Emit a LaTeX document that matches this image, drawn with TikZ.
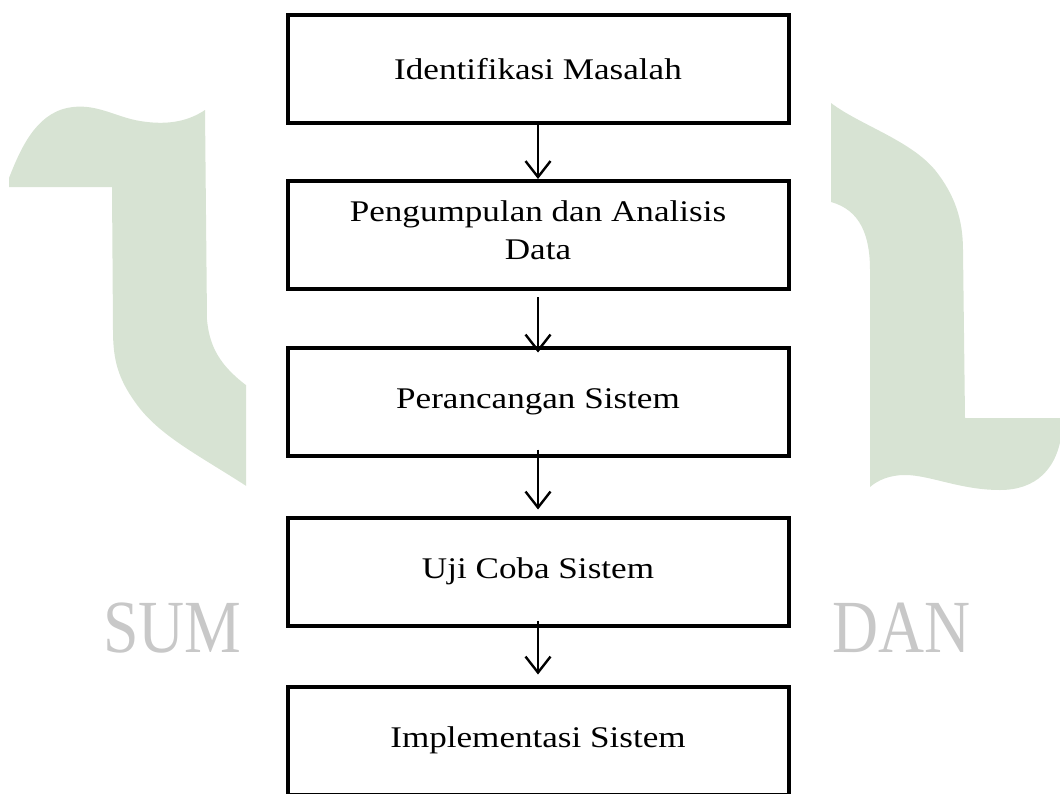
\documentclass[tikz,border=0pt]{standalone}
\usepackage{fontspec}
\setmainfont{Liberation Serif}
\newfontfamily\stagefont{Liberation Serif}[FakeStretch=1.17]
\newfontfamily\markfont{Liberation Serif}[FakeStretch=0.85]
\usetikzlibrary{arrows.meta}
\definecolor{markgreen}{RGB}{215,227,211}
\definecolor{markgray}{RGB}{200,200,200}
\tikzset{
  stage/.style={draw=black, line width=2pt, minimum width=250.5pt, minimum height=54pt,
    align=center, font=\stagefont\fontsize{15}{19}\selectfont},
  flow/.style={line width=1.2pt, -{Straight Barb[length=8pt,width=12.5pt,line width=1.2pt]}},
  markword/.style={markgray, anchor=base west, inner sep=0pt, font=\markfont\fontsize{37.5}{40}\selectfont}
}
\begin{document}
\begin{tikzpicture}[x=0.5pt,y=-0.5pt]
  \useasboundingbox (0,0) rectangle (1060,793);
  % watermark
  \begin{scope}
    \clip (0,0) rectangle (246,793);
    \fill[markgreen] (9,187) -- (9,178) .. controls (20,150) and (35,115) .. (67,108)
      .. controls (95,102) and (115,117) .. (140,121) .. controls (170,126) and (190,120) .. (205,110)
      -- (207,320) .. controls (210,350) and (222,370) .. (260,395) -- (260,495)
      .. controls (205,458) and (160,438) .. (135,402) .. controls (118,378) and (113,360) .. (113,330)
      -- (112,187) -- cycle;
    \node[markword] (sum) at (103,652) {SUM};
  \end{scope}
  \fill[markgreen] (831,103) .. controls (860,125) and (910,140) .. (935,170)
    .. controls (955,195) and (963,220) .. (963,250) -- (965,418) -- (1062,418) -- (1062,430)
    .. controls (1058,470) and (1035,490) .. (1000,490) .. controls (960,490) and (930,475) .. (905,475)
    .. controls (890,475) and (878,480) .. (870,487) -- (870,270)
    .. controls (870,235) and (860,210) .. (831,202) -- cycle;
  \node[markword] (dan) at (832,652) {DAN};
  % stages
  \node[stage] (b1) at (538,69) {Identifikasi Masalah};
  \node[stage] (b2) at (538,235) {Pengumpulan dan Analisis\\Data\\[-14pt]};
  \node[stage] (b3) at (538,401.5) {Perancangan Sistem};
  \node[stage] (b4) at (538,571.5) {Uji Coba Sistem};
  \node[stage] (b5) at (538,740.5) {Implementasi Sistem};
  % arrows
  \draw[flow] (b1) -- (b2);
  \draw[flow, shorten <=3pt, shorten >=-3.5pt] (b2) -- (b3);
  \draw[flow, shorten <=-4pt, shorten >=3pt] (b3) -- (b4);
  \draw[flow, shorten <=-3.5pt, shorten >=5pt] (b4) -- (b5);
\end{tikzpicture}
\end{document}
